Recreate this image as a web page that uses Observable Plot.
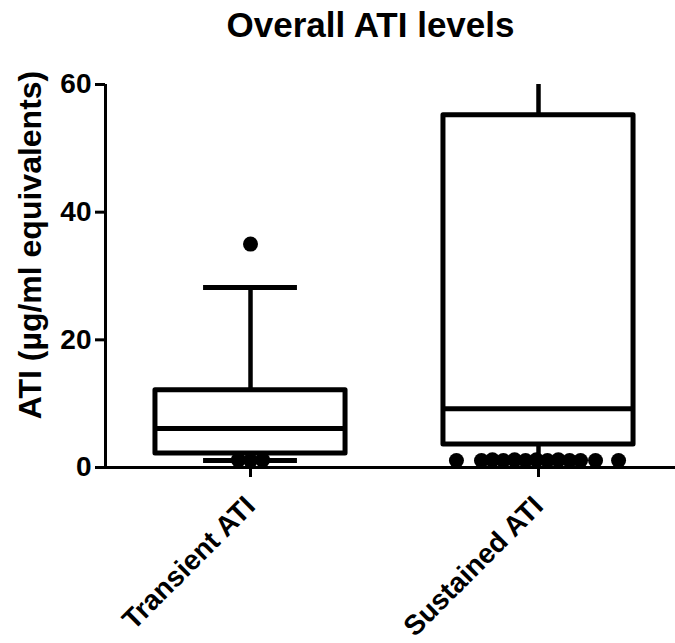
<!DOCTYPE html>
<html>
<head>
<meta charset="utf-8">
<script src="https://cdn.jsdelivr.net/npm/d3@7"></script>
<script src="https://cdn.jsdelivr.net/npm/@observablehq/plot@0.6"></script>
<style>
  html, body { margin: 0; padding: 0; background: #fff; }
  #chart svg { display: block; }
</style>
</head>
<body>
<div id="chart"></div>
<script>
// ---- data ----
const categories = ["Transient ATI", "Sustained ATI"];
const positions = [0, 1];
const q1 = [2.2, 3.6];
const median = [6.1, 9.2];
const q3 = [12.1, 55.2];
const whiskerLow = [1.1, 1.2];
const whiskerHigh = [28.2, 66];
// individual points: group index, value, horizontal offset (in category units)
const pointGroup = [0, 0, 0, 0, 1, 1, 1, 1, 1, 1, 1, 1, 1, 1, 1, 1, 1];
const pointValue = [35.0, 1.2, 1.1, 1.2, 1.1, 1.1, 1.2, 1.1, 1.2, 1.1, 1.2, 1.1, 1.2, 1.1, 1.1, 1.1, 1.1];
const pointOffset = [0, -0.042, 0, 0.042, -0.285, -0.198, -0.16, -0.122, -0.083, -0.045, -0.007, 0.031, 0.069, 0.108, 0.146, 0.198, 0.278];
const yTicks = [0, 20, 40, 60];
const title = "Overall ATI levels";
const yLabel = "ATI (µg/ml equivalents)";

// ---- tables ----
const boxes = categories.map((c, i) => ({
  cat: c, pos: positions[i], q1: q1[i], med: median[i], q3: q3[i],
  lo: whiskerLow[i], hi: whiskerHigh[i]
}));
const points = pointValue.map((v, i) => ({ pos: positions[pointGroup[i]] + pointOffset[i], v }));

const halfBox = 0.33, halfCap = 0.163;
const font = "'Liberation Sans', Arial, sans-serif";

const chart = Plot.plot({
  width: 675,
  height: 643,
  marginLeft: 105,
  marginRight: 0,
  marginTop: 84,
  marginBottom: 176,
  style: { fontFamily: font, fontWeight: "bold", background: "#fff", overflow: "visible" },
  x: { type: "linear", domain: [-0.5035, 1.4757] },
  y: { domain: [0, 60] },
  marks: [
    // whiskers
    Plot.ruleX(boxes, { x: "pos", y1: "q3", y2: "hi", stroke: "black", strokeWidth: 4.5, clip: true }),
    Plot.ruleX(boxes, { x: "pos", y1: "lo", y2: "q1", stroke: "black", strokeWidth: 4.5 }),
    Plot.ruleY(boxes.filter(d => d.hi <= 60), { y: "hi", x1: d => d.pos - halfCap, x2: d => d.pos + halfCap, stroke: "black", strokeWidth: 5 }),
    Plot.ruleY(boxes, { y: "lo", x1: d => d.pos - halfCap, x2: d => d.pos + halfCap, stroke: "black", strokeWidth: 5 }),
    // boxes
    Plot.rect(boxes, { x1: d => d.pos - halfBox, x2: d => d.pos + halfBox, y1: "q1", y2: "q3", fill: "white", stroke: "black", strokeWidth: 5, strokeLinejoin: "round" }),
    Plot.ruleY(boxes, { y: "med", x1: d => d.pos - halfBox, x2: d => d.pos + halfBox, stroke: "black", strokeWidth: 5 }),
    // points
    Plot.dot(points, { x: "pos", y: "v", r: 7.5, fill: "black", stroke: "none" }),
    // axes lines
    Plot.ruleY([0], { stroke: "black", strokeWidth: 3 }),
    Plot.ruleX([-0.5035], { y1: 0, y2: 60, stroke: "black", strokeWidth: 3 }),
    Plot.axisY({ ticks: yTicks, tickSize: 10, tickPadding: 4, fontSize: 28, fontWeight: "bold", strokeWidth: 3, label: null }),
    Plot.axisX({ ticks: positions, tickFormat: i => categories[i], tickRotate: -45, tickSize: 10, tickPadding: 24, fontSize: 28, fontWeight: "bold", strokeWidth: 3, label: null, style: { letterSpacing: "0.3px" } }),
    // title and y label
    Plot.text([title], { frameAnchor: "top", lineAnchor: "top", dx: -20, dy: -72, fontSize: 35, fontWeight: "bold", fill: "black", style: { letterSpacing: "1px" } }),
    Plot.text([yLabel], { frameAnchor: "left", textAnchor: "middle", rotate: -90, dx: -75, dy: -31, fontSize: 32, fontWeight: "bold", fill: "black", style: { letterSpacing: "0.3px" } })
  ]
});
document.getElementById("chart").appendChild(chart);
</script>
</body>
</html>
